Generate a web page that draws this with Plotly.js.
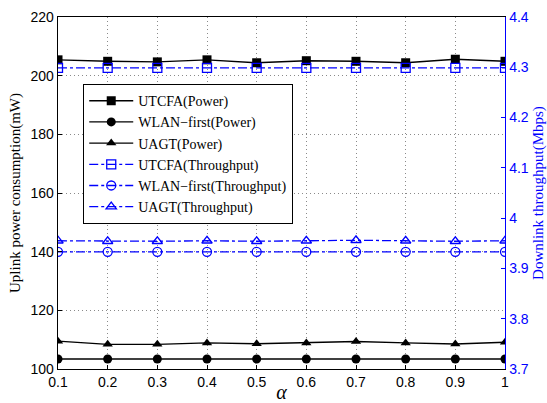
<!DOCTYPE html>
<html>
<head>
<meta charset="utf-8">
<script src="https://cdn.plot.ly/plotly-3.0.1.min.js"></script>
<style>html,body{margin:0;padding:0;background:#fff;}#chart{width:547px;height:403px;}</style>
</head>
<body>
<div id="chart"></div>
<script>
const alpha = [0.1, 0.2, 0.3, 0.4, 0.5, 0.6, 0.7, 0.8, 0.9, 1.0];
const utcfaPower = [205.4, 204.9, 204.7, 205.4, 204.4, 205.1, 204.9, 204.4, 205.6, 204.9];
const wlanPower = [103.4, 103.4, 103.4, 103.4, 103.4, 103.4, 103.4, 103.4, 103.4, 103.4];
const uagtPower = [109.5, 108.4, 108.4, 108.9, 108.6, 108.9, 109.4, 108.9, 108.5, 109.1];
const utcfaThr = [4.299, 4.299, 4.299, 4.299, 4.299, 4.299, 4.299, 4.299, 4.299, 4.299];
const wlanThr = [3.933, 3.933, 3.933, 3.933, 3.933, 3.933, 3.933, 3.933, 3.933, 3.933];
const uagtThr = [3.955, 3.954, 3.954, 3.955, 3.954, 3.955, 3.956, 3.955, 3.954, 3.955];
const names = ['UTCFA(Power)', 'WLAN\u2212first(Power)', 'UAGT(Power)',
               'UTCFA(Throughput)', 'WLAN\u2212first(Throughput)', 'UAGT(Throughput)'];

const blk = '#000000', blu = '#0000ff';
function pw(y, name, sym) {
  return {x: alpha, y: y, name: name, type: 'scatter', mode: 'lines+markers',
    line: {color: blk, width: 1.4},
    marker: {symbol: sym, size: 9, color: blk, line: {width: 0}}};
}
function th(y, name, sym) {
  return {x: alpha, y: y, name: name, type: 'scatter', mode: 'lines+markers', yaxis: 'y2',
    line: {color: blu, width: 1.3, dash: 'dashdot'},
    marker: {symbol: sym, size: 9, color: blu, line: {color: blu, width: 1.3}}};
}
const data = [
  pw(utcfaPower, names[0], 'square'),
  pw(wlanPower, names[1], 'circle'),
  pw(uagtPower, names[2], 'triangle-up'),
  th(utcfaThr, names[3], 'square-open'),
  th(wlanThr, names[4], 'circle-open'),
  th(uagtThr, names[5], 'triangle-up-open')
];
const tickFont = {family: 'Liberation Sans, Arial, sans-serif', size: 14, color: '#000'};
const serif = 'Liberation Serif, Times New Roman, serif';
const layout = {
  width: 547, height: 403,
  margin: {l: 58, r: 42, t: 17, b: 34},
  paper_bgcolor: '#fff', plot_bgcolor: '#fff',
  showlegend: true,
  legend: {x: 0.056, y: 0.81, xanchor: 'left', yanchor: 'top',
    bgcolor: '#fff', bordercolor: '#000', borderwidth: 1.2,
    font: {family: serif, size: 14, color: '#000'},
    itemwidth: 44, tracegroupgap: 0},
  xaxis: {range: [0.1, 1], dtick: 0.1, tick0: 0.1, tickformat: '.1~f',
    showgrid: true, gridcolor: '#8a8a8a', griddash: '1px,3px', gridwidth: 1,
    showline: true, linecolor: '#000', linewidth: 1.4, mirror: true,
    ticks: 'inside', ticklen: 4, tickcolor: '#000',
    zeroline: false, tickfont: tickFont,
    title: {text: '<i>α</i>', font: {family: serif, size: 20, color: '#000'}, standoff: 3}},
  yaxis: {range: [100, 220], dtick: 20,
    showgrid: true, gridcolor: '#8a8a8a', griddash: '1px,3px', gridwidth: 1,
    showline: true, linecolor: '#000', linewidth: 1.4,
    ticks: 'inside', ticklen: 4, tickcolor: '#000',
    zeroline: false, tickfont: tickFont,
    title: {text: 'Uplink power consumption(mW)', font: {family: serif, size: 15, color: '#000'}, standoff: 6}},
  yaxis2: {range: [3.7, 4.4], dtick: 0.1, overlaying: 'y', side: 'right',
    showgrid: false, showline: true, linecolor: blu, linewidth: 1.4,
    ticks: 'inside', ticklen: 4, tickcolor: blu, tickformat: '.1~f',
    zeroline: false, tickfont: {family: 'Liberation Sans, Arial, sans-serif', size: 14, color: blu},
    title: {text: 'Downlink throughput(Mbps)', font: {family: serif, size: 15, color: blu}, standoff: 4}}
};
Plotly.newPlot('chart', data, layout, {staticPlot: true, displayModeBar: false});
</script>
</body>
</html>
